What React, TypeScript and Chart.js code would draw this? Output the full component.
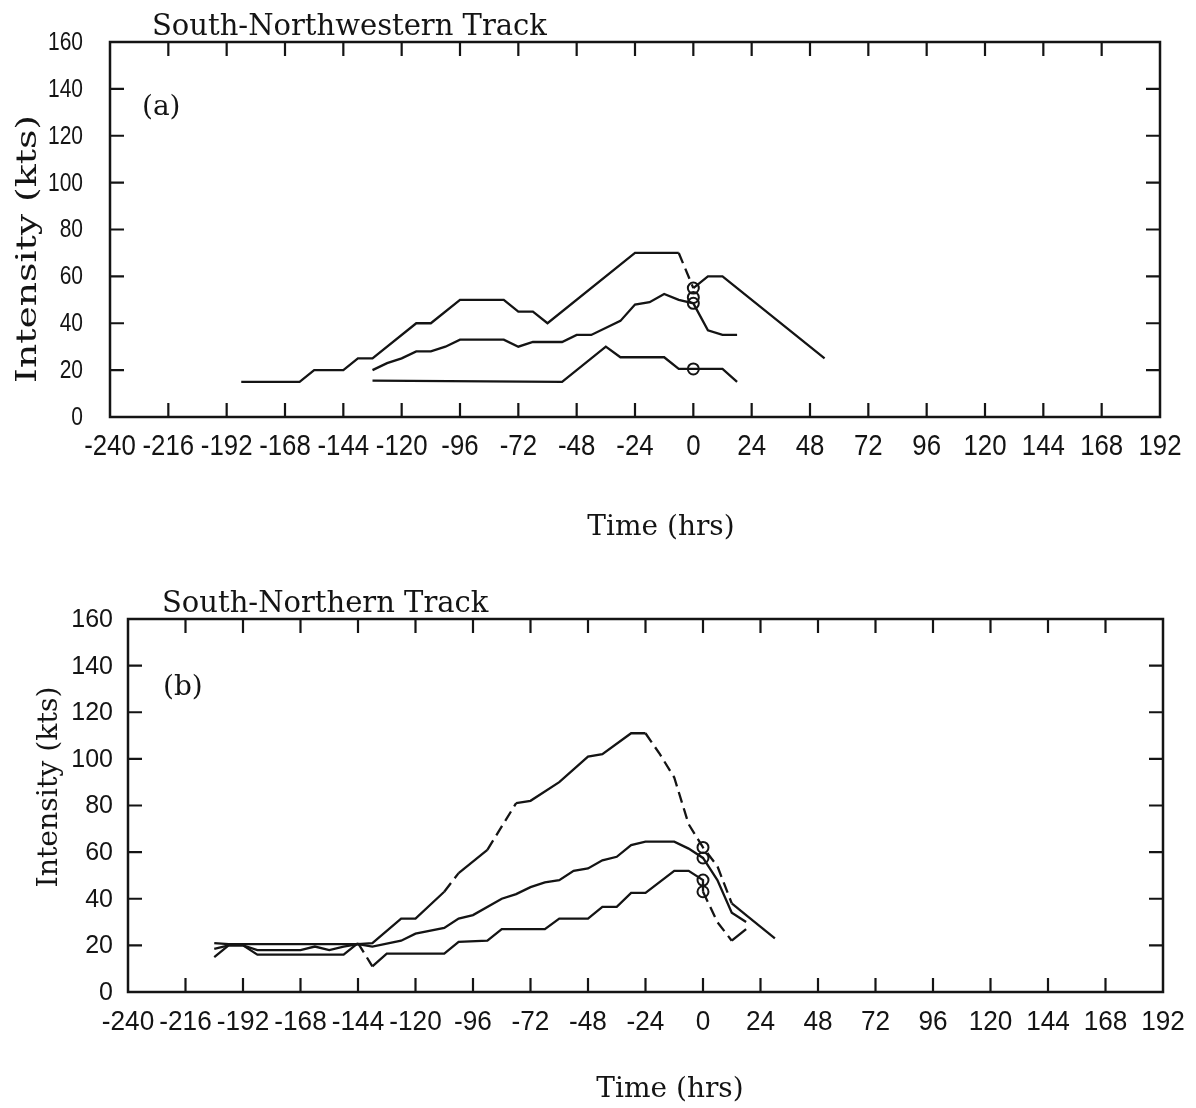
import React, { useEffect, useRef } from "react";
import { Chart, registerables } from "chart.js";

Chart.register(...registerables);

// ---------- shared axes ----------
const HOUR_TICKS = [-240, -216, -192, -168, -144, -120, -96, -72, -48, -24, 0, 24, 48, 72, 96, 120, 144, 168, 192];
const KTS_TICKS = [0, 20, 40, 60, 80, 100, 120, 140, 160];

// ---------- panel (a): South-Northwestern Track ----------
const aTrack1Hours = [-186, -162, -156, -144, -138, -132, -114, -108, -96, -78, -72, -66, -60, -24, -6, 0, 6, 12, 54];
const aTrack1Kts = [15, 15, 20, 20, 25, 25, 40, 40, 50, 50, 45, 45, 40, 70, 70, 55, 60, 60, 25];
const aTrack1Gap = [0, 0, 0, 0, 0, 0, 0, 0, 0, 0, 0, 0, 0, 0, 1, 0, 0, 0, 0];

const aTrack2Hours = [-132, -126, -120, -114, -108, -102, -96, -78, -72, -66, -54, -48, -42, -30, -24, -18, -12, -6, 0, 6, 12, 18];
const aTrack2Kts = [20, 23, 25, 28, 28, 30, 33, 33, 30, 32, 32, 35, 35, 41, 48, 49, 52.5, 50, 48.5, 37, 35, 35];

const aTrack3Hours = [-132, -54, -36, -30, -12, -6, 12, 18];
const aTrack3Kts = [15.5, 15, 30, 25.5, 25.5, 20.5, 20.5, 15];

const aLandfallHours = [0, 0, 0, 0];
const aLandfallKts = [55, 51, 48.5, 20.5];

// ---------- panel (b): South-Northern Track ----------
const bTrack1Hours = [-204, -198, -144, -138, -126, -120, -108, -102, -90, -78, -72, -60, -48, -42, -30, -24, -18, -12, -6, 0, 6, 12, 18, 30];
const bTrack1Kts = [21, 20.5, 20.5, 21, 31.5, 31.5, 43, 51, 61, 81, 82, 90, 101, 102, 111, 111, 102, 92, 72, 62, 54, 38, 33, 23];
const bTrack1Gap = [0, 0, 0, 0, 0, 0, 1, 0, 1, 0, 0, 0, 0, 0, 0, 1, 1, 1, 1, 1, 1, 0, 0, 0];

const bTrack2Hours = [-204, -198, -192, -186, -168, -162, -156, -150, -144, -138, -126, -120, -108, -102, -96, -84, -78, -72, -66, -60, -54, -48, -42, -36, -30, -24, -12, -6, 0, 6, 12, 18];
const bTrack2Kts = [18.5, 20, 20, 18, 18, 19.5, 18, 19.5, 20.5, 19.5, 22, 25, 27.5, 31.5, 33, 40, 42, 45, 47, 48, 52, 53, 56.5, 58, 63, 64.5, 64.5, 61.5, 57.5, 48, 34, 30];

const bTrack3Hours = [-204, -198, -192, -186, -150, -144, -138, -132, -108, -102, -90, -84, -66, -60, -48, -42, -36, -30, -24, -12, -6, 0, 0, 6, 12, 18];
const bTrack3Kts = [15, 20, 20, 16, 16, 21, 11, 16.5, 16.5, 21.5, 22, 27, 27, 31.5, 31.5, 36.5, 36.5, 42.5, 42.5, 52, 52, 48, 43, 30, 22, 27];
const bTrack3Gap = [0, 0, 0, 0, 0, 1, 0, 0, 0, 0, 0, 0, 0, 0, 0, 0, 0, 0, 0, 0, 0, 0, 1, 1, 0, 0];

const bLandfallHours = [0, 0, 0, 0];
const bLandfallKts = [62, 57.5, 48, 43];

// ---------- helpers ----------
const INK = "#141414";
const SERIF = "'DejaVu Serif', serif";
const SANS = "'Liberation Sans', Arial, sans-serif";

function pts(xs: number[], ys: number[]) {
  return xs.map((x, i) => ({ x, y: ys[i] }));
}

function lineSet(xs: number[], ys: number[], gaps?: number[]) {
  return {
    type: "line" as const,
    data: pts(xs, ys),
    borderColor: INK,
    borderWidth: 2.3,
    pointRadius: 0,
    fill: false,
    tension: 0,
    segment: {
      borderDash: (ctx: any) => (gaps && gaps[ctx.p0DataIndex] ? [11, 6] : undefined),
    },
  };
}

function circleSet(xs: number[], ys: number[]) {
  return {
    type: "line" as const,
    data: pts(xs, ys),
    showLine: false,
    borderColor: INK,
    backgroundColor: "rgba(0,0,0,0)",
    borderWidth: 2,
    pointRadius: 5.5,
    pointStyle: "circle",
  };
}

type TextItem = {
  text: string;
  x: number;
  y: number;
  font: string;
  align?: CanvasTextAlign;
  baseline?: CanvasTextBaseline;
  rotate?: boolean;
  length?: number;
};

type LabelStyle = { size: number; stretch: number; offset: number };

const framePlugin = {
  id: "frame",
  afterDatasetsDraw(chart: any, _args: any, opts: any) {
    const { ctx, chartArea: a, scales } = chart;
    ctx.save();
    ctx.strokeStyle = INK;
    ctx.lineWidth = 2.5;
    ctx.strokeRect(a.left, a.top, a.right - a.left, a.bottom - a.top);
    const L = opts.tickLen;
    ctx.lineWidth = 2.2;
    ctx.beginPath();
    for (const t of HOUR_TICKS.slice(1, -1)) {
      const px = scales.x.getPixelForValue(t);
      ctx.moveTo(px, a.bottom);
      ctx.lineTo(px, a.bottom - L);
      ctx.moveTo(px, a.top);
      ctx.lineTo(px, a.top + L);
    }
    for (const v of KTS_TICKS.slice(1, -1)) {
      const py = scales.y.getPixelForValue(v);
      ctx.moveTo(a.left, py);
      ctx.lineTo(a.left + L, py);
      ctx.moveTo(a.right, py);
      ctx.lineTo(a.right - L, py);
    }
    ctx.stroke();
    ctx.fillStyle = INK;

    // tick labels, placed through the chart's scales
    const xl: LabelStyle = opts.xLabels;
    ctx.font = `${xl.size}px ${SANS}`;
    ctx.textAlign = "center";
    ctx.textBaseline = "alphabetic";
    for (const t of HOUR_TICKS) {
      const px = scales.x.getPixelForValue(t);
      ctx.save();
      ctx.translate(px, a.bottom + xl.offset);
      ctx.scale(xl.stretch, 1);
      ctx.fillText(String(t), 0, 0);
      ctx.restore();
    }
    const yl: LabelStyle = opts.yLabels;
    ctx.font = `${yl.size}px ${SANS}`;
    ctx.textAlign = "right";
    ctx.textBaseline = "middle";
    for (const v of KTS_TICKS) {
      const py = scales.y.getPixelForValue(v);
      ctx.save();
      ctx.translate(a.left - yl.offset, py + 1);
      ctx.scale(yl.stretch, 1);
      ctx.fillText(String(v), 0, 0);
      ctx.restore();
    }

    for (const t of opts.texts as TextItem[]) {
      ctx.save();
      ctx.font = t.font;
      ctx.textAlign = t.align || "left";
      ctx.textBaseline = t.baseline || "alphabetic";
      ctx.translate(t.x, t.y);
      if (t.rotate) {
        ctx.rotate(-Math.PI / 2);
        if (t.length) {
          const w = ctx.measureText(t.text).width;
          ctx.scale(t.length / w, 1);
        }
      }
      ctx.fillText(t.text, 0, 0);
      ctx.restore();
    }
    ctx.restore();
  },
};

type PanelCfg = {
  datasets: any[];
  area: { left: number; right: number; top: number; bottom: number };
  width: number;
  height: number;
  xLabels: LabelStyle;
  yLabels: LabelStyle;
  texts: TextItem[];
};

function makeConfig(p: PanelCfg): any {
  return {
    type: "line",
    data: { datasets: p.datasets },
    options: {
      responsive: false,
      animation: false,
      devicePixelRatio: 1,
      layout: {
        padding: { left: 0, top: p.area.top, right: p.width - p.area.right, bottom: 0 },
      },
      plugins: {
        legend: { display: false },
        title: { display: false },
        tooltip: { enabled: false },
        frame: { tickLen: 14, texts: p.texts, xLabels: p.xLabels, yLabels: p.yLabels },
      },
      scales: {
        x: {
          type: "linear",
          min: -240,
          max: 192,
          afterFit: (s: any) => {
            s.height = p.height - p.area.bottom;
          },
          afterBuildTicks: (s: any) => {
            s.ticks = HOUR_TICKS.map((v) => ({ value: v }));
          },
          grid: { display: false, drawTicks: false },
          border: { display: false },
          ticks: { display: false },
        },
        y: {
          type: "linear",
          min: 0,
          max: 160,
          afterFit: (s: any) => {
            s.width = p.area.left;
          },
          afterBuildTicks: (s: any) => {
            s.ticks = KTS_TICKS.map((v) => ({ value: v }));
          },
          grid: { display: false, drawTicks: false },
          border: { display: false },
          ticks: { display: false },
        },
      },
    },
    plugins: [framePlugin],
  };
}

const W = 1196;
const H_A = 554;
const H_B = 554;

const panelA: PanelCfg = {
  datasets: [
    lineSet(aTrack1Hours, aTrack1Kts, aTrack1Gap),
    lineSet(aTrack2Hours, aTrack2Kts),
    lineSet(aTrack3Hours, aTrack3Kts),
    circleSet(aLandfallHours, aLandfallKts),
  ],
  area: { left: 110, right: 1160, top: 42, bottom: 417 },
  width: W,
  height: H_A,
  xLabels: { size: 30, stretch: 0.86, offset: 38 },
  yLabels: { size: 25, stretch: 0.84, offset: 27 },
  texts: [
    { text: "South-Northwestern Track", x: 152, y: 35, font: `29px ${SERIF}` },
    { text: "(a)", x: 142, y: 115, font: `28px ${SERIF}` },
    { text: "Time (hrs)", x: 661, y: 535, font: `28px ${SERIF}`, align: "center" },
    { text: "Intensity (kts)", x: 29, y: 249, font: `27px ${SERIF}`, align: "center", baseline: "middle", rotate: true, length: 268 },
  ],
};

const panelB: PanelCfg = {
  datasets: [
    lineSet(bTrack1Hours, bTrack1Kts, bTrack1Gap),
    lineSet(bTrack2Hours, bTrack2Kts),
    lineSet(bTrack3Hours, bTrack3Kts, bTrack3Gap),
    circleSet(bLandfallHours, bLandfallKts),
  ],
  area: { left: 128, right: 1163, top: 619 - 554, bottom: 992 - 554 },
  width: W,
  height: H_B,
  xLabels: { size: 27, stretch: 0.97, offset: 38 },
  yLabels: { size: 25, stretch: 1, offset: 15 },
  texts: [
    { text: "South-Northern Track", x: 162, y: 612 - 554, font: `29px ${SERIF}` },
    { text: "(b)", x: 163, y: 695 - 554, font: `28px ${SERIF}` },
    { text: "Time (hrs)", x: 670, y: 1097 - 554, font: `28px ${SERIF}`, align: "center" },
    { text: "Intensity (kts)", x: 50, y: 787 - 554, font: `28px ${SERIF}`, align: "center", baseline: "middle", rotate: true, length: 201 },
  ],
};

export default function App() {
  const refA = useRef<HTMLCanvasElement | null>(null);
  const refB = useRef<HTMLCanvasElement | null>(null);

  useEffect(() => {
    const charts: Chart[] = [];
    if (refA.current) charts.push(new Chart(refA.current, makeConfig(panelA)));
    if (refB.current) charts.push(new Chart(refB.current, makeConfig(panelB)));
    return () => charts.forEach((c) => c.destroy());
  }, []);

  return (
    <div style={{ position: "fixed", left: 0, top: 0, width: W, height: H_A + H_B, background: "#fff" }}>
      <canvas ref={refA} width={W} height={H_A} style={{ position: "absolute", left: 0, top: 0, width: W, height: H_A }} />
      <canvas ref={refB} width={W} height={H_B} style={{ position: "absolute", left: 0, top: H_A, width: W, height: H_B }} />
    </div>
  );
}
